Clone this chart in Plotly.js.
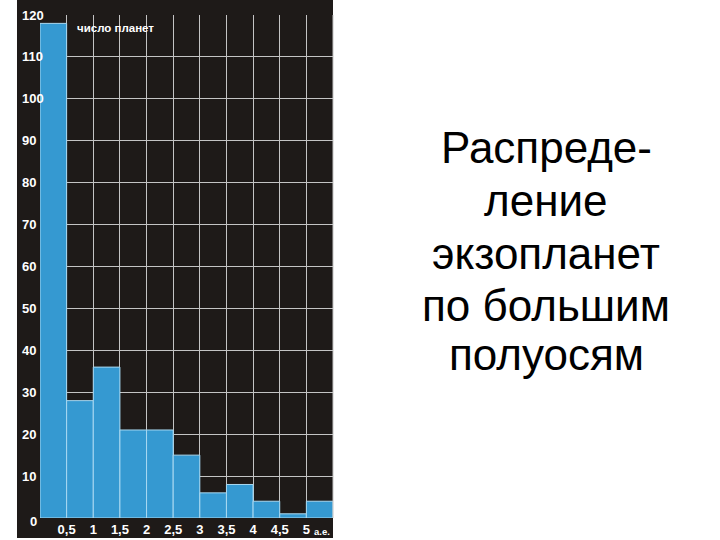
<!DOCTYPE html>
<html>
<head>
<meta charset="utf-8">
<script src="https://cdn.plot.ly/plotly-3.0.1.min.js"></script>
<style>html,body{margin:0;padding:0;background:#fff;}#chart{width:720px;height:540px;}</style>
</head>
<body>
<div id="chart"></div>
<script>
// Data
const binCenters = [0.25, 0.75, 1.25, 1.75, 2.25, 2.75, 3.25, 3.75, 4.25, 4.75, 5.25];
const planetCounts = [118, 28, 36, 21, 21, 15, 6, 8, 4, 1, 4];
const xTickVals = [0.5, 1, 1.5, 2, 2.5, 3, 3.5, 4, 4.5, 5];
const xTickText = ["0,5", "1", "1,5", "2", "2,5", "3", "3,5", "4", "4,5", "5"];
const yTickVals = [0, 10, 20, 30, 40, 50, 60, 70, 80, 90, 100, 110, 120];
const yTickText = ["0", "10", "20", "30", "40", "50", "60", "70", "80", "90", "100", "110", "120"];
const yAxisLabel = "число планет";
const xUnitLabel = "а.е.";
const titleLines = ["Распреде-", "ление", "экзопланет", "по большим", "полуосям"];

const DARK = "#1e1a18";
const BLUE = "#3599d1";
const GRID = "#c4c4c4";
const FONT = "Liberation Sans, Arial, sans-serif";

// plot area in px (for placing slide text)
const PL = 40, PW = 293, PT = 15, PH = 503;

const trace = {
  type: "bar",
  x: binCenters,
  y: planetCounts,
  width: 0.5,
  marker: { color: BLUE, line: { color: "#a9d9f2", width: 1 } },
  hoverinfo: "skip"
};

const annotations = yTickVals.map((v, i) => ({
  xref: "paper", yref: "y",
  x: v === 0 ? -0.04 : -0.068, y: v,
  xanchor: "left", yanchor: "middle",
  yshift: v === 0 ? -3 : 0,
  text: "<b>" + yTickText[i] + "</b>",
  showarrow: false,
  font: { family: FONT, size: 13, color: "#ffffff" }
}));

annotations.push({
  xref: "paper", yref: "paper",
  x: 0.119, y: 0.974,
  xanchor: "left", yanchor: "middle",
  text: "<b>" + yAxisLabel + "</b>",
  showarrow: false,
  font: { family: FONT, size: 11.5, color: "#ffffff" }
});

annotations.push({
  xref: "x", yref: "paper",
  x: 5.1, y: -0.026,
  xanchor: "left", yanchor: "middle",
  text: "<b>" + xUnitLabel + "</b>",
  showarrow: false,
  font: { family: FONT, size: 9.5, color: "#ffffff" }
});

// slide title lines, line centers in px from top
const titleCenterX = 546;
const titleLineY = [147, 200, 253, 305, 354];
titleLines.forEach((t, i) => {
  annotations.push({
    xref: "paper", yref: "paper",
    x: (titleCenterX - PL) / PW,
    y: (PT + PH - titleLineY[i]) / PH,
    xanchor: "center", yanchor: "middle",
    text: t,
    showarrow: false,
    font: { family: FONT, size: 44, color: "#000000" }
  });
});

const layout = {
  width: 720, height: 540,
  margin: { l: PL, r: 720 - PL - PW, t: PT, b: 540 - PT - PH, pad: 0 },
  paper_bgcolor: "#ffffff",
  plot_bgcolor: DARK,
  showlegend: false,
  bargap: 0,
  xaxis: {
    range: [0, 5.5],
    tickvals: xTickVals,
    ticktext: xTickText.map(t => "<b>" + t + "</b>"),
    ticks: "",
    ticklabelstandoff: 2,
    showgrid: true, gridcolor: GRID, gridwidth: 1,
    zeroline: false, showline: false,
    tickfont: { family: FONT, size: 13, color: "#ffffff" },
    fixedrange: true
  },
  yaxis: {
    range: [0, 120],
    tickvals: yTickVals,
    showticklabels: false,
    ticks: "",
    showgrid: true, gridcolor: GRID, gridwidth: 1,
    zeroline: false, showline: false,
    fixedrange: true
  },
  shapes: [
    { type: "rect", xref: "paper", yref: "paper", layer: "below",
      x0: -0.0785, x1: 1.0, y0: -0.0398, y1: 1.03,
      fillcolor: DARK, line: { width: 0 } },
    { type: "line", xref: "paper", yref: "paper", layer: "above",
      x0: 1.0, x1: 1.0, y0: 0, y1: 1,
      line: { color: GRID, width: 1 } }
  ],
  annotations: annotations
};

Plotly.newPlot("chart", [trace], layout, { displayModeBar: false, staticPlot: true });
</script>
</body>
</html>
